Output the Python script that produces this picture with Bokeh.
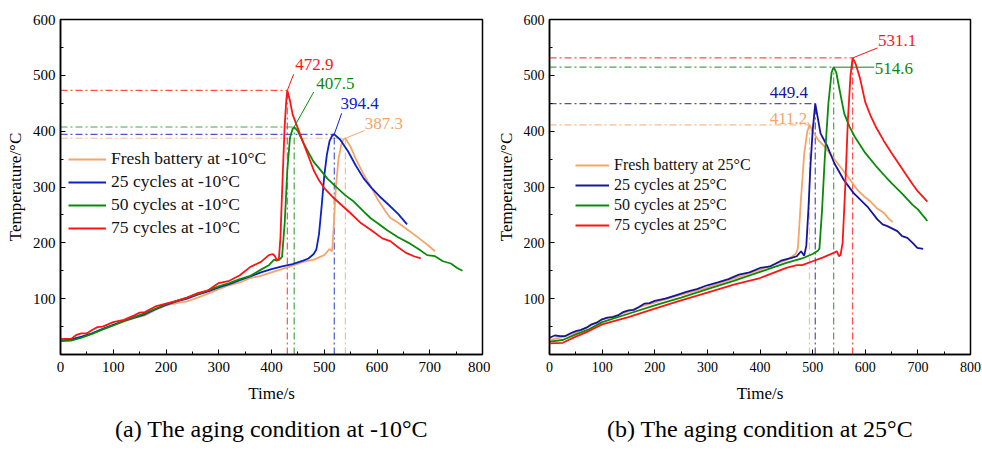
from bokeh.plotting import figure
from bokeh.models import Legend, LegendItem, Label, FixedTicker, Range1d, Title
from bokeh.layouts import row
from bokeh.embed import file_html
from bokeh.resources import INLINE

FONT = "Liberation Serif"

# ---------------- (a) aging at -10 C ----------------
a_fresh_t = [0, 20, 40, 60, 80, 100, 120, 140, 160, 180, 200, 220, 240, 260, 280, 300, 320, 340, 360, 380, 400,
             420, 440, 460, 480, 500, 510, 515, 518, 522, 527, 532, 536, 540, 550, 560, 575, 590, 600, 615, 625,
             640, 660, 680, 695, 710]
a_fresh_T = [25, 26, 31, 38, 45, 52, 59, 65, 70, 80, 88, 92, 95, 102, 109, 117, 124, 129, 137, 141, 147,
             153, 159, 166, 170, 178, 189, 185, 230, 300, 350, 375, 385, 387.3, 372, 350, 322, 298, 280, 258, 245,
             236, 222, 208, 197, 185]

a_25_t = [0, 20, 40, 60, 80, 100, 120, 140, 160, 180, 200, 220, 240, 260, 280, 300, 320, 340, 360, 380, 400,
          420, 440, 460, 470, 480, 485, 490, 495, 500, 505, 510, 515, 519, 530, 545, 560, 575, 590, 605, 620,
          640, 657]
a_25_T = [25, 27, 32, 38, 46, 53, 60, 66, 72, 81, 89, 95, 100, 107, 113, 120, 126, 133, 140, 147, 153,
          158, 162, 168, 172, 180, 188, 215, 265, 320, 358, 382, 392, 394.4, 385, 364, 338, 315, 298, 283, 270,
          252, 233]

a_50_t = [0, 20, 40, 60, 80, 100, 120, 140, 160, 180, 200, 220, 240, 260, 280, 300, 320, 340, 360, 380, 395,
          405, 410, 415, 420, 425, 430, 435, 440, 443, 450, 460, 470, 480, 495, 506, 525, 540, 556, 575, 588,
          600, 620, 640, 660, 680, 695, 710, 725, 740, 752, 762]
a_50_T = [24, 25, 30, 37, 45, 52, 60, 67, 74, 82, 90, 96, 102, 108, 115, 122, 128, 135, 141, 152, 160,
          170, 168, 170, 175, 235, 330, 388, 404, 407.5, 400, 380, 362, 345, 328, 315, 298, 285, 274, 256, 244,
          236, 222, 210, 200, 188, 178, 176, 167, 163, 155, 150]

a_75_t = [0, 20, 30, 40, 50, 60, 70, 80, 100, 120, 140, 150, 160, 180, 200, 220, 240, 260, 280, 300, 320,
          340, 360, 380, 395, 402, 406, 410, 414, 417, 420, 425, 428, 430, 435, 440, 450, 460, 470, 480, 490,
          500, 515, 530, 550, 570, 590, 610, 625, 640, 655, 670, 683]
a_75_T = [28, 28, 35, 38, 38, 44, 49, 50, 58, 62, 70, 75, 76, 86, 91, 96, 102, 110, 115, 128, 132,
          142, 157, 166, 178, 180, 177, 169, 171, 210, 290, 410, 455, 472.9, 455, 430, 405, 380, 355, 330, 312,
          298, 283, 270, 253, 235, 222, 208, 203, 192, 182, 176, 172]

a_peak_x = [540, 519, 443, 430]
a_peak_T = [387.3, 394.4, 407.5, 472.9]
a_names = ["Fresh battery at -10°C", "25 cycles at -10°C", "50 cycles at -10°C", "75 cycles at -10°C"]

# ---------------- (b) aging at 25 C ----------------
b_fresh_t = [0, 25, 50, 75, 100, 125, 150, 175, 200, 250, 300, 350, 400, 450, 468, 472, 478, 484, 490, 494,
             500, 510, 522, 535, 547, 560, 572, 585, 598, 610, 622, 635, 645, 652]
b_fresh_T = [26, 31, 39, 50, 63, 69, 77, 86, 93, 107, 120, 136, 152, 169, 180, 190, 280, 360, 400, 411.2,
             400, 385, 373, 357, 343, 327, 312, 295, 283, 274, 262, 254, 243, 237]

b_25_t = [0, 10, 20, 30, 40, 50, 60, 70, 80, 90, 100, 110, 120, 130, 140, 150, 160, 170, 180, 190, 200,
          220, 240, 260, 280, 300, 320, 340, 360, 380, 400, 420, 440, 460, 470, 478, 484, 488, 492, 496, 500,
          505, 515, 528, 541, 559, 578, 604, 623, 633, 642, 661, 670, 680, 690, 699, 710]
b_25_T = [30, 34, 33, 33, 38, 42, 44, 48, 54, 57, 63, 66, 67, 70, 76, 79, 80, 85, 91, 92, 96,
          100, 106, 112, 117, 124, 129, 135, 143, 147, 155, 158, 168, 173, 176, 185, 177, 195, 260, 340, 400,
          449.4, 396, 373, 343, 313, 289, 265, 242, 233, 230, 221, 212, 209, 200, 191, 189]

b_50_t = [0, 25, 50, 75, 100, 150, 200, 250, 300, 350, 400, 450, 480, 500, 510, 513, 518, 523, 530, 536,
          540, 545, 550, 560, 570, 580, 600, 620, 640, 650, 670, 690, 700, 718]
b_50_T = [23, 26, 36, 45, 58, 73, 88, 102, 117, 132, 148, 164, 172, 180, 186, 190, 260, 350, 450, 505,
          514.6, 505, 480, 432, 408, 390, 361, 338, 317, 307, 288, 268, 260, 239]

b_75_t = [0, 25, 50, 75, 100, 150, 200, 250, 300, 350, 400, 450, 470, 480, 500, 520, 540, 546, 550, 553,
          557, 562, 567, 572, 576, 582, 590, 600, 610, 620, 635, 650, 665, 680, 690, 700, 718]
b_75_T = [20, 21, 32, 42, 54, 67, 82, 97, 111, 125, 137, 155, 160, 160, 167, 174, 182, 185, 176, 178,
          200, 300, 420, 500, 531.1, 520, 495, 452, 428, 408, 383, 361, 340, 319, 305, 292, 274]

b_peak_x = [494, 505, 540, 576]
b_peak_T = [411.2, 449.4, 514.6, 531.1]
b_names = ["Fresh battery at 25°C", "25 cycles at 25°C", "50 cycles at 25°C", "75 cycles at 25°C"]

x_major = [0, 100, 200, 300, 400, 500, 600, 700, 800]
x_minor = [50, 150, 250, 350, 450, 550, 650, 750]
y_major = [100, 200, 300, 400, 500, 600]
y_minor = [50, 150, 250, 350, 450, 550]


def make_fig(width, height, border_left, border_right, border_top, border_bottom, tick_size):
    p = figure(width=width, height=height, output_backend="svg", toolbar_location=None,
               x_range=Range1d(0, 800), y_range=Range1d(0, 600),
               min_border_left=border_left, min_border_right=border_right,
               min_border_top=border_top, min_border_bottom=border_bottom)
    p.grid.visible = False
    p.outline_line_color = "black"
    p.outline_line_width = 1.5
    p.background_fill_color = "white"
    p.border_fill_color = "white"
    p.xaxis.ticker = FixedTicker(ticks=x_major, minor_ticks=x_minor)
    p.yaxis.ticker = FixedTicker(ticks=y_major, minor_ticks=y_minor)
    p.axis.axis_line_color = "black"
    p.axis.axis_line_width = 1.5
    p.axis.major_tick_in = 5
    p.axis.major_tick_out = 0
    p.axis.minor_tick_in = 3
    p.axis.minor_tick_out = 0
    p.axis.major_tick_line_color = "black"
    p.axis.minor_tick_line_color = "black"
    p.axis.major_label_text_font = FONT
    p.axis.major_label_text_font_size = tick_size
    p.axis.major_label_text_color = "black"
    p.axis.axis_label_text_font = FONT
    p.axis.axis_label_text_font_size = "17px"
    p.axis.axis_label_text_font_style = "normal"
    p.axis.axis_label_text_color = "black"
    p.xaxis.axis_label = "Time/s"
    p.yaxis.axis_label = "Temperature/°C"
    p.xaxis.major_label_standoff = 7
    p.yaxis.major_label_standoff = 5
    p.xaxis.axis_label_standoff = 9
    p.yaxis.axis_label_standoff = 5
    return p


def add_series(p, ts, Ts, colors, names, peak_x, peak_T, legend_loc, glyph_w, row_h, font_size):
    # dash-dot guide lines
    for px, pT, c in zip(peak_x, peak_T, colors):
        p.segment(x0=[0], y0=[pT], x1=[px], y1=[pT], line_color=c, line_width=1.2,
                  line_dash="7 3 2 3", line_alpha=0.75)
        p.segment(x0=[px], y0=[0], x1=[px], y1=[pT], line_color=c, line_width=1.2,
                  line_dash="7 3 2 3", line_alpha=0.75)
    items = []
    for t, T, c, n in zip(ts, Ts, colors, names):
        r = p.line(t, T, line_color=c, line_width=1.8)
        items.append(LegendItem(label=n, renderers=[r]))
    leg = Legend(items=items, location=legend_loc, glyph_width=glyph_w, glyph_height=row_h,
                 label_height=row_h, spacing=2, padding=0, margin=0, label_standoff=5,
                 border_line_color=None, background_fill_alpha=0,
                 label_text_font=FONT, label_text_font_size=font_size, label_text_color="#111111")
    p.add_layout(leg)


def add_label(p, x, y, text, color, align="left"):
    p.add_layout(Label(x=x, y=y, text=text, text_color=color, text_font=FONT,
                       text_font_size="17px", text_align=align, text_baseline="middle"))


def add_caption(p, text):
    t = Title(text=text, align="center", text_font=FONT, text_font_size="24px",
              text_font_style="normal", text_color="black", standoff=17)
    p.add_layout(t, "below")


# colors
a_colors = ["#F4A66A", "#0A22C8", "#0A8A0A", "#FF1414"]
b_colors = ["#F4A66A", "#16169C", "#0A8A0A", "#FF1414"]

pa = make_fig(490, 453, 60, 8, 17, 99, "15px")
add_series(pa, [a_fresh_t, a_25_t, a_50_t, a_75_t], [a_fresh_T, a_25_T, a_50_T, a_75_T],
           a_colors, a_names, a_peak_x, a_peak_T, (8, 116), 38, 20, "17.5px")
# leader lines and values
pa.segment(x0=[a_peak_x[3]], y0=[a_peak_T[3]], x1=[442], y1=[502], line_color=a_colors[3], line_width=1)
pa.segment(x0=[a_peak_x[2]], y0=[a_peak_T[2]], x1=[480], y1=[470], line_color=a_colors[2], line_width=1)
pa.segment(x0=[a_peak_x[1]], y0=[a_peak_T[1]], x1=[533], y1=[432], line_color=a_colors[1], line_width=1)
pa.segment(x0=[a_peak_x[0]], y0=[a_peak_T[0]], x1=[576], y1=[401], line_color=a_colors[0], line_width=1)
add_label(pa, 445, 520, "472.9", a_colors[3])
add_label(pa, 485, 485, "407.5", a_colors[2])
add_label(pa, 531, 449.5, "394.4", a_colors[1])
add_label(pa, 577, 414, "387.3", a_colors[0])
add_caption(pa, "(a) The aging condition at -10°C")

pb = make_fig(492, 453, 59, 12, 19, 98, "14px")
add_series(pb, [b_fresh_t, b_25_t, b_50_t, b_75_t], [b_fresh_T, b_25_T, b_50_T, b_75_T],
           b_colors, b_names, b_peak_x, b_peak_T, (26, 120), 34, 18, "16px")
pb.segment(x0=[b_peak_x[3]], y0=[b_peak_T[3]], x1=[623], y1=[549], line_color=b_colors[3], line_width=1)
pb.segment(x0=[b_peak_x[2]], y0=[b_peak_T[2]], x1=[617], y1=[b_peak_T[2]], line_color=b_colors[2], line_width=1)
pb.segment(x0=[b_peak_x[0]], y0=[b_peak_T[0]], x1=[491], y1=[416], line_color=b_colors[0], line_width=1)
add_label(pb, 624, 563, "531.1", b_colors[3])
add_label(pb, 618, 513, "514.6", b_colors[2])
add_label(pb, 491, 470, "449.4", b_colors[1], align="right")
add_label(pb, 490, 422, "411.2", b_colors[0], align="right")
add_caption(pb, "(b) The aging condition at 25°C")

layout = row(pa, pb)
open("out.html", "w").write(file_html(layout, INLINE))
